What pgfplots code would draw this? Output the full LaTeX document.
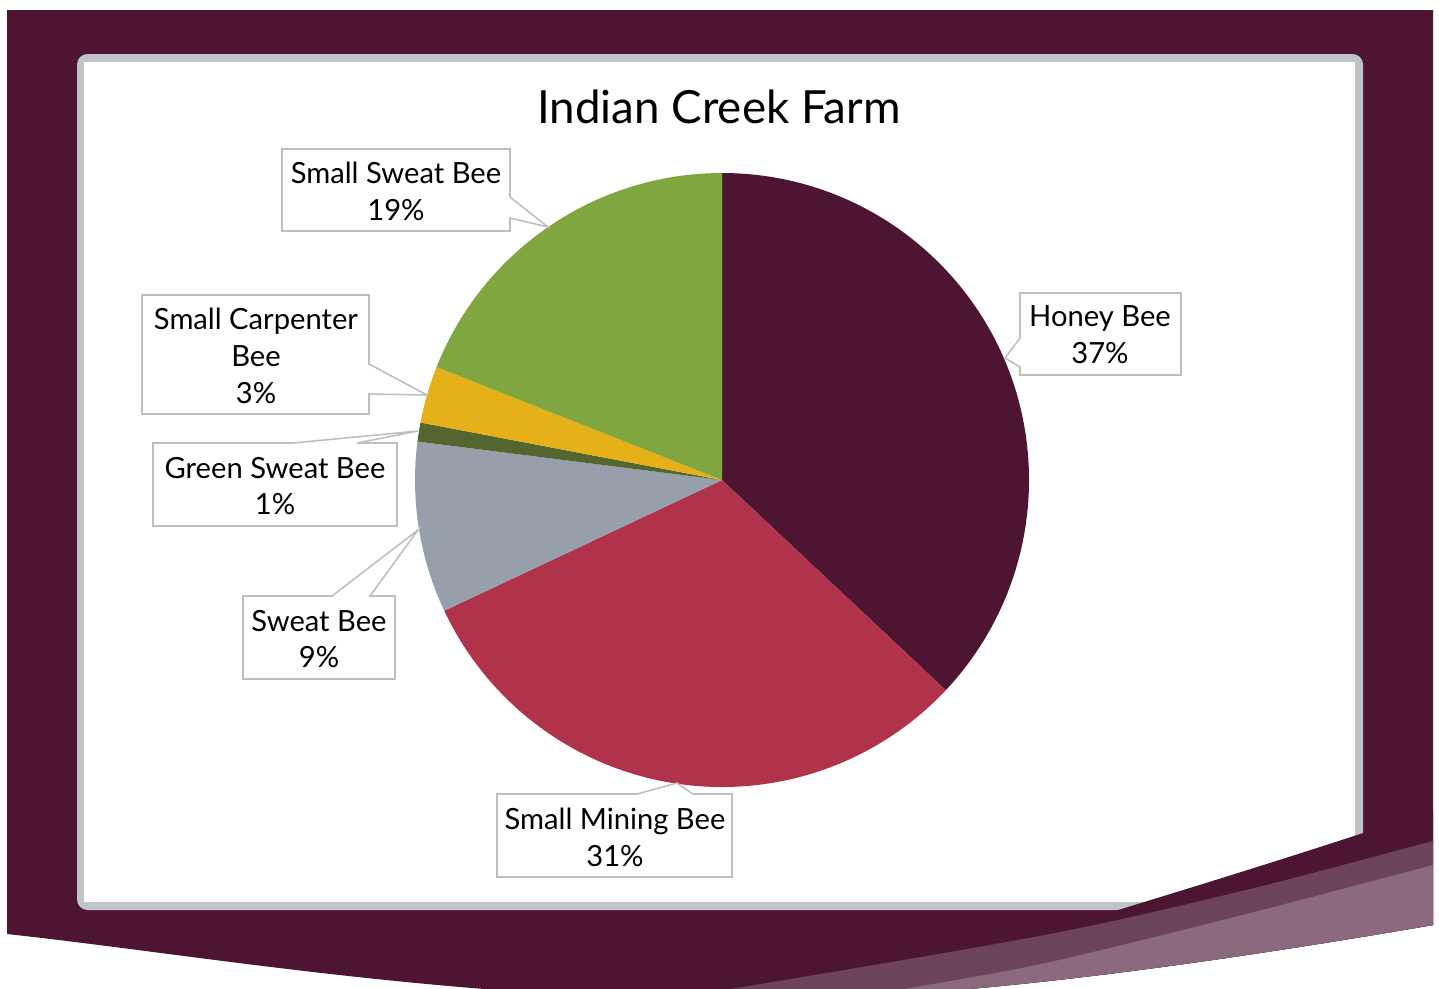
\documentclass[border=0pt]{standalone}
\usepackage{pgfplots}
\pgfplotsset{compat=1.18}
\usepackage{fontspec}
\setmainfont{Lato}

\definecolor{maroon}{HTML}{4E1533}
\definecolor{mining}{HTML}{B0334B}
\definecolor{sweat}{HTML}{97A0AA}
\definecolor{greensweat}{HTML}{556530}
\definecolor{carpenter}{HTML}{E5B018}
\definecolor{smallsweat}{HTML}{7FA63F}
\definecolor{framegray}{HTML}{C0C4C9}
\definecolor{stripeA}{HTML}{6B4459}
\definecolor{stripeB}{HTML}{8A6A7C}
\definecolor{callout}{HTML}{BFBFBF}

% slice: #1 = cumulative percent before, #2 = percent, #3 = colour
\newcommand\pieslice[3]{%
  \pgfmathsetmacro\sa{90-3.6*#1}%
  \pgfmathsetmacro\ea{90-3.6*(#1+#2)}%
  \pgfmathsetmacro\xs{722+307*cos(\sa)}%
  \pgfmathsetmacro\ys{480-307*sin(\sa)}%
  \edef\tmp{\noexpand\fill[#3] (axis cs:722,480) -- (axis cs:\xs,\ys)
    arc[start angle=\sa, end angle=\ea, radius=30.7mm] -- cycle;}%
  \tmp}

\def\outline{(7,10) -- (1433,10) -- (1433,925)
  .. controls (1200,965) and (950,1000) .. (750,1000)
  .. controls (450,1000) and (200,955) .. (7,934) -- cycle}

\begin{document}
\begin{tikzpicture}
% slide background, in pixel units
\begin{scope}[x=0.1mm,y=-0.1mm]
  \useasboundingbox (0,0) rectangle (1439,988);
  \fill[white] (0,0) rectangle (1439,988);
  \begin{scope}
    \clip (0,0) rectangle (1439,988);
    \fill[maroon] \outline;
    \fill[framegray, rounded corners=3] (77,54) rectangle (1363,910);
    \fill[white] (84,62) rectangle (1355,902);
    \clip \outline;
    \fill[maroon] (900,979) -- (1118,910) .. controls (1200,885) and (1290,857) .. (1363,833)
      -- (1450,805) -- (1450,1100) -- (900,1100) -- cycle;
    \fill[stripeA] plot[smooth] coordinates {(600,1010) (737,988) (1050,934) (1250,889) (1433,841) (1450,837)}
      -- (1450,1100) -- (600,1100) -- cycle;
    \fill[stripeB] plot[smooth] coordinates {(780,1010) (910,988) (1050,962) (1250,913) (1433,865) (1450,861)}
      -- (1450,1100) -- (780,1100) -- cycle;
  \end{scope}
\end{scope}

\begin{axis}[
    at={(0,0)}, anchor=north west,
    hide axis, clip=false,
    x=0.1mm, y=0.1mm,
    xmin=0, xmax=1439, ymin=0, ymax=988,
    y dir=reverse,
  ]
  % Honey Bee 37, Small Mining Bee 31, Sweat Bee 9, Green Sweat Bee 1,
  % Small Carpenter Bee 3, Small Sweat Bee 19
  \pieslice{0}{37}{maroon}
  \pieslice{37}{31}{mining}
  \pieslice{68}{9}{sweat}
  \pieslice{77}{1}{greensweat}
  \pieslice{78}{3}{carpenter}
  \pieslice{81}{19}{smallsweat}
\end{axis}

% title and callouts
\begin{scope}[x=0.1mm,y=-0.1mm,
    lab/.style={font=\fontsize{8.3}{10.5}\selectfont, align=center, inner sep=0pt},
    box/.style={draw=callout, line width=0.45pt, fill=white}]
  \node[inner sep=0pt, font=\fontsize{13}{15}\selectfont] at (719,107) {Indian Creek Farm};

  \path[box] (282,149) -- (510,149) -- (510,197) -- (548,227) -- (510,218) -- (510,231) -- (282,231) -- cycle;
  \node[lab] at (396,191) {Small Sweat Bee\\19\%};

  \path[box] (1020,293) -- (1181,293) -- (1181,375) -- (1020,375) -- (1020,367) -- (1005,358) -- (1020,338) -- cycle;
  \node[lab] at (1100,335) {Honey Bee\\37\%};

  \path[box] (142,295) -- (369,295) -- (369,364) -- (427,395) -- (369,394) -- (369,414) -- (142,414) -- cycle;
  \node[lab] at (256,356) {Small Carpenter\\Bee\\3\%};

  \path[box] (153,443) -- (293,443) -- (418,431) -- (357,443) -- (397,443) -- (397,526) -- (153,526) -- cycle;
  \node[lab] at (275,486) {Green Sweat Bee\\1\%};

  \path[box] (243,596) -- (332,596) -- (418,530) -- (370,596) -- (395,596) -- (395,679) -- (243,679) -- cycle;
  \node[lab] at (319,639) {Sweat Bee\\9\%};

  \path[box] (497,794) -- (637,794) -- (677,783) -- (693,794) -- (732,794) -- (732,877) -- (497,877) -- cycle;
  \node[lab] at (615,837) {Small Mining Bee\\31\%};
\end{scope}
\end{tikzpicture}
\end{document}
